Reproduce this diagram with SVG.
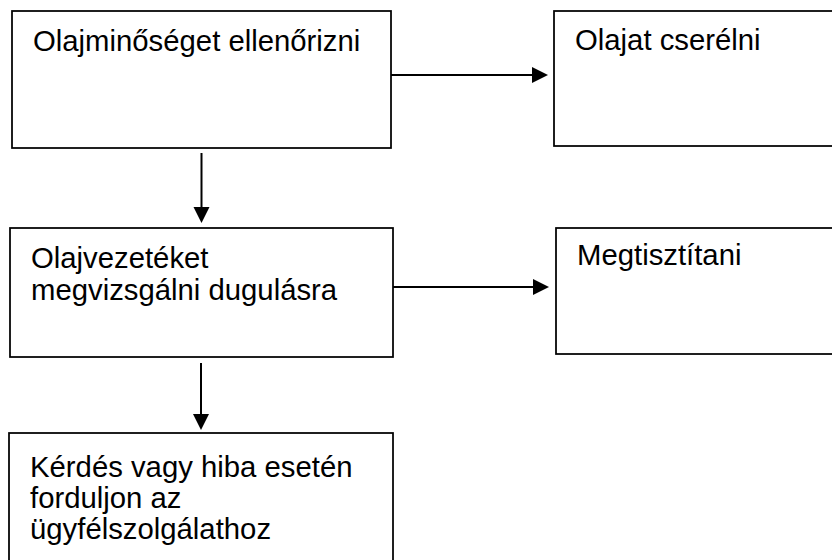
<svg xmlns="http://www.w3.org/2000/svg" width="832" height="560" viewBox="0 0 832 560">
<style>
.box{fill:#fff;stroke:#000;stroke-width:1.75}
.lbl{font-family:"Liberation Sans",Arial,sans-serif;font-size:29.3px;fill:#000}
.con{stroke:#000;stroke-width:2;fill:none}
.head{fill:#000}
</style>
<rect width="832" height="560" fill="#fff"/>
<g id="n1"><rect class="box" x="12" y="11" width="379" height="137"/><text class="lbl" x="33" y="51">Olajminőséget ellenőrizni</text></g>
<g id="n2"><rect class="box" x="554" y="11" width="300" height="135"/><text class="lbl" x="575" y="50">Olajat cserélni</text></g>
<g id="n3"><rect class="box" x="10" y="228" width="383" height="129"/><text class="lbl" x="31" y="268">Olajvezetéket</text><text class="lbl" x="31" y="300">megvizsgálni dugulásra</text></g>
<g id="n4"><rect class="box" x="556" y="228" width="300" height="126"/><text class="lbl" x="577" y="265">Megtisztítani</text></g>
<g id="n5"><rect class="box" x="9" y="433" width="384" height="140"/><text class="lbl" x="30" y="477">Kérdés vagy hiba esetén</text><text class="lbl" x="30" y="508">forduljon az</text><text class="lbl" x="30" y="539">ügyfélszolgálathoz</text></g>
<g id="connectors">
<line class="con" x1="391" y1="75" x2="534" y2="75"/><polygon class="head" points="532,67 548,75 532,83"/>
<line class="con" x1="201.5" y1="153" x2="201.5" y2="209"/><polygon class="head" points="193.5,207 209.5,207 201.5,223"/>
<line class="con" x1="393" y1="287" x2="535" y2="287"/><polygon class="head" points="533,279 549,287 533,295"/>
<line class="con" x1="201" y1="363" x2="201" y2="416"/><polygon class="head" points="193,414 209,414 201,430"/>
</g>
</svg>
